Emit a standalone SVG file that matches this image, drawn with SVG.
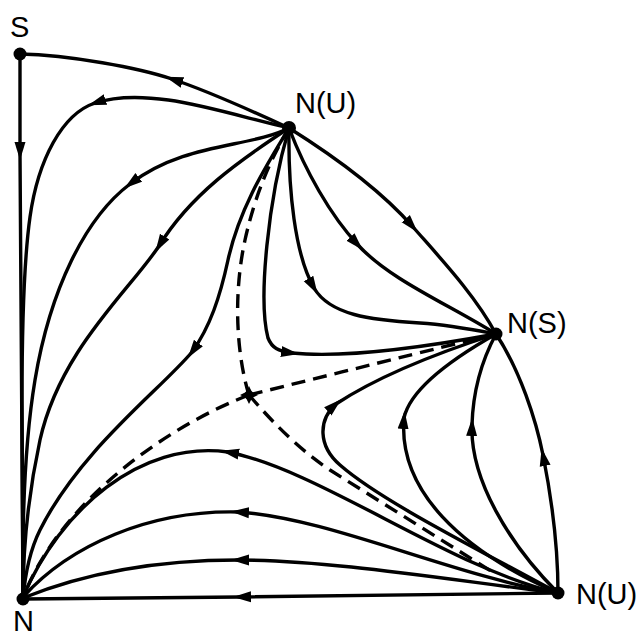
<svg xmlns="http://www.w3.org/2000/svg" width="641" height="637" viewBox="0 0 641 637">
<style>
.c{fill:none;stroke:#000;stroke-width:3.4;stroke-linecap:round;stroke-linejoin:round}
.d{fill:none;stroke:#000;stroke-width:3.4;stroke-dasharray:14 8}
.a{marker-end:url(#ah)}
.lbl{font-family:"Liberation Sans",Arial,sans-serif;font-size:29px;fill:#000}
.dot{fill:#000}
</style>
<defs>
<marker id="ah" markerUnits="userSpaceOnUse" markerWidth="20" markerHeight="14" refX="11" refY="6" orient="auto">
<path d="M0,0.5 L18,6 L0,11.5 Z" fill="#000"/>
</marker>
</defs>
<rect width="641" height="637" fill="#fff"/>
<g id="connectors">
<path class="c a" d="M20,55 L20,153"/>
<path class="c" d="M20,153 L23,599"/>
<path class="c a" d="M289,128 C250,110 205,90 172,79"/>
<path class="c" d="M172,79 C139,68 70,55 20,54"/>
<path class="c a" d="M289,128 C340,160 385,195 413,227"/>
<path class="c" d="M413,227 C441,259 475,295 496,334"/>
<path class="c a" d="M558,593 C558,540 550,490 543,455"/>
<path class="c" d="M543,455 C536,420 520,370 496,334"/>
<path class="c a" d="M558,593 L240,597"/>
<path class="c" d="M240,597 L23,599"/>
<path class="c a" d="M289,128 C230,115 150,85 95,103"/>
<path class="c" d="M95,103 C62,114 38,160 30,217 C24,260 22,320 22,400 L23,599"/>
<path class="c a" d="M289,128 C250,148 185,142 130,184"/>
<path class="c" d="M130,184 C85,218 50,290 35,380 C25,440 22,520 23,599"/>
<path class="c a" d="M289,128 C240,160 190,195 159,246"/>
<path class="c" d="M159,246 C130,290 60,350 40,440 C27,500 23,550 23,599"/>
<path class="c a" d="M289,128 C270,160 240,205 228,260 C220,297 210,327 192,352"/>
<path class="c" d="M192,352 C160,390 80,450 40,530 C30,550 25,575 23,599"/>
<path class="c a" d="M289,128 C288,190 295,255 314,288"/>
<path class="c" d="M314,288 C330,315 370,320 420,323 C450,325 475,330 496,334"/>
<path class="c a" d="M289,128 C305,170 330,215 358,245"/>
<path class="c" d="M358,245 C390,280 450,305 496,334"/>
<path class="c a" d="M289,128 C268,200 258,300 268,338 C272,348 278,351 292,353"/>
<path class="c" d="M292,353 C340,358 420,348 496,334"/>
<path class="c a" d="M558,593 C470,545 380,500 340,465 C318,446 318,420 336,404"/>
<path class="c" d="M336,404 C380,375 440,352 496,334"/>
<path class="c a" d="M558,593 C460,550 398,490 404,418"/>
<path class="c" d="M404,418 C410,390 450,360 496,334"/>
<path class="c a" d="M558,593 C510,545 470,480 472,425"/>
<path class="c" d="M472,425 C473,390 482,360 496,334"/>
<path class="c a" d="M558,593 C450,580 330,560 238,560"/>
<path class="c" d="M238,560 C150,560 80,575 23,598"/>
<path class="c a" d="M558,593 C450,575 330,518 238,512"/>
<path class="c" d="M238,512 C150,510 70,545 23,597"/>
<path class="c a" d="M558,593 C450,568 320,470 228,452"/>
<path class="c" d="M228,452 C140,440 60,510 23,597"/>
<path class="d" d="M249,395 C238,360 232,300 245,240 C255,195 270,160 289,128"/>
<path class="d" d="M249,395 C170,425 60,500 23,598"/>
<path class="d" d="M249,395 C330,375 430,350 496,334"/>
<path class="d" d="M249,395 C275,425 300,450 330,470 L494,573"/>
</g>
<g id="node-S">
<circle class="dot" cx="20" cy="54" r="6.5"/>
<text class="lbl" x="10" y="37">S</text>
</g>
<g id="node-NU-top">
<circle class="dot" cx="289" cy="128" r="7"/>
<text class="lbl" x="295" y="113">N(U)</text>
</g>
<g id="node-NS">
<circle class="dot" cx="496" cy="334" r="6.5"/>
<text class="lbl" x="507" y="333">N(S)</text>
</g>
<g id="node-NU-bottom">
<circle class="dot" cx="558" cy="593" r="6.5"/>
<text class="lbl" x="576" y="604">N(U)</text>
</g>
<g id="node-N">
<circle class="dot" cx="23" cy="599" r="6.5"/>
<text class="lbl" x="13" y="631">N</text>
</g>
<g id="node-saddle">
<path class="dot" d="M249,386 L252,392 L258,395 L252,398 L249,404 L246,398 L240,395 L246,392 Z"/>
<circle class="dot" cx="249" cy="395" r="4.5"/>
</g>
</svg>
